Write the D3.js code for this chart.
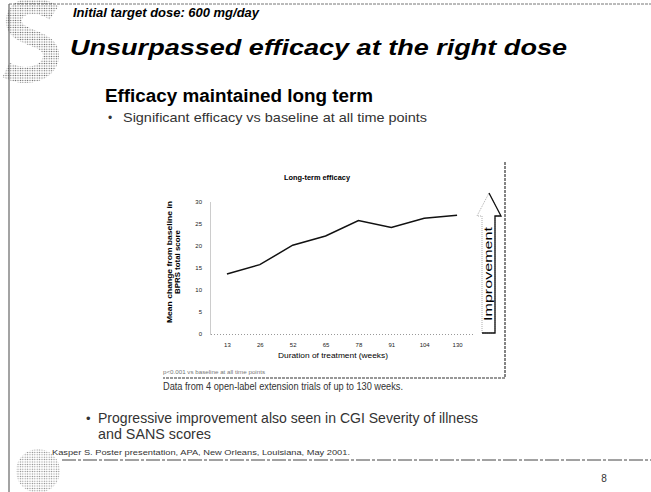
<!DOCTYPE html>
<html lang="en">
<head>
<meta charset="UTF-8">
<title>Long-term efficacy</title>
<style>
  body { margin: 0; background: #fff; }
  svg { display: block; font-family: "Liberation Sans", Arial, sans-serif; }
  .tick text { font-size: 6px; fill: #222; }
</style>
</head>
<body>
<script src="https://d3js.org/d3.v7.min.js"></script>
<script>
// chart data
const weeks = ['13', '26', '52', '65', '78', '91', '104', '130'];
const meanChange = [13.6, 15.7, 20.1, 22.2, 25.7, 24.1, 26.2, 26.9];
const yTicks = [0, 5, 10, 15, 20, 25, 30];

const svg = d3.select('body').append('svg')
  .attr('width', 651)
  .attr('height', 492);

// halftone dot pattern for the logos
const defs = svg.append('defs');
const pat = defs.append('pattern')
  .attr('id', 'dots').attr('patternUnits', 'userSpaceOnUse')
  .attr('width', 2.4).attr('height', 2.4);
pat.append('circle').attr('cx', 1.2).attr('cy', 1.2).attr('r', 0.65).attr('fill', '#555');

// page frame
svg.append('line').attr('x1', 9).attr('x2', 651).attr('y1', 4).attr('y2', 4)
  .attr('stroke', '#777').attr('stroke-width', 1).attr('stroke-dasharray', '3,1');
svg.append('line').attr('x1', 9).attr('x2', 9).attr('y1', 4).attr('y2', 492)
  .attr('stroke', '#666').attr('stroke-width', 1.2);
svg.append('line').attr('x1', 62).attr('x2', 651).attr('y1', 460).attr('y2', 460)
  .attr('stroke', '#444').attr('stroke-width', 1).attr('stroke-dasharray', '14,2,3,2');

// top logo (S swirl)
svg.append('path')
  .attr('d', 'M54,13 C36,1 12,5 14,23 C16,40 52,36 51,56 C50,74 26,80 6,70')
  .attr('fill', 'none').attr('stroke', 'url(#dots)').attr('stroke-width', 16);
// bottom logo
svg.append('circle').attr('cx', 38).attr('cy', 471).attr('r', 22)
  .attr('fill', 'url(#dots)').attr('opacity', 0.75);

// slide texts
svg.append('text').attr('x', 73).attr('y', 17)
  .attr('font-size', 13).attr('font-weight', 'bold').attr('font-style', 'italic')
  .attr('textLength', 186).attr('lengthAdjust', 'spacingAndGlyphs')
  .text('Initial target dose: 600 mg/day');
svg.append('text').attr('x', 70).attr('y', 55)
  .attr('font-size', 22).attr('font-weight', 'bold').attr('font-style', 'italic')
  .attr('textLength', 497).attr('lengthAdjust', 'spacingAndGlyphs')
  .text('Unsurpassed efficacy at the right dose');
svg.append('text').attr('x', 105).attr('y', 102)
  .attr('font-size', 18).attr('font-weight', 'bold')
  .attr('textLength', 268).attr('lengthAdjust', 'spacingAndGlyphs')
  .text('Efficacy maintained long term');
svg.append('text').attr('x', 108).attr('y', 122).attr('font-size', 12).attr('fill', '#333').text('•');
svg.append('text').attr('x', 123).attr('y', 122)
  .attr('font-size', 13).attr('fill', '#333')
  .attr('textLength', 304).attr('lengthAdjust', 'spacingAndGlyphs')
  .text('Significant efficacy vs baseline at all time points');

svg.append('text').attr('x', 163).attr('y', 390)
  .attr('font-size', 10).attr('fill', '#333')
  .attr('textLength', 240).attr('lengthAdjust', 'spacingAndGlyphs')
  .text('Data from 4 open-label extension trials of up to 130 weeks.');
svg.append('text').attr('x', 86).attr('y', 423).attr('font-size', 13).attr('fill', '#333').text('•');
svg.append('text').attr('x', 98).attr('y', 423)
  .attr('font-size', 15).attr('fill', '#333')
  .attr('textLength', 380).attr('lengthAdjust', 'spacingAndGlyphs')
  .text('Progressive improvement also seen in CGI Severity of illness');
svg.append('text').attr('x', 98).attr('y', 439)
  .attr('font-size', 15).attr('fill', '#333')
  .attr('textLength', 113).attr('lengthAdjust', 'spacingAndGlyphs')
  .text('and SANS scores');
svg.append('text').attr('x', 52).attr('y', 455)
  .attr('font-size', 8).attr('fill', '#333')
  .attr('textLength', 298).attr('lengthAdjust', 'spacingAndGlyphs')
  .text('Kasper S. Poster presentation, APA, New Orleans, Louisiana, May 2001.');
svg.append('text').attr('x', 604).attr('y', 482).attr('font-size', 10)
  .attr('text-anchor', 'middle').attr('fill', '#333').text('8');

// chart box (right and bottom edges only)
svg.append('path').attr('d', 'M505,162 V378 H163')
  .attr('fill', 'none').attr('stroke', '#333').attr('stroke-width', 1.2)
  .attr('stroke-dasharray', '3,1');

// chart
const x = d3.scalePoint().domain(weeks).range([210.5, 473.5]).padding(0.5);
const y = d3.scaleLinear().domain([0, 30]).range([334, 201.5]);

const xAxis = svg.append('g').attr('transform', 'translate(0,334)')
  .call(d3.axisBottom(x).tickSize(0).tickPadding(9));
xAxis.select('.domain').attr('stroke', '#999').attr('stroke-dasharray', '1,2');

const yAxis = svg.append('g').attr('transform', 'translate(210,0)')
  .call(d3.axisLeft(y).tickValues(yTicks).tickSize(0).tickPadding(8));
yAxis.select('.domain').attr('stroke', '#999').attr('stroke-dasharray', '1,1');

const line = d3.line()
  .x((d, i) => x(weeks[i]))
  .y(d => y(d));
svg.append('path').datum(meanChange)
  .attr('d', line)
  .attr('fill', 'none').attr('stroke', '#111').attr('stroke-width', 1.5);

svg.append('text').attr('x', 317).attr('y', 180)
  .attr('font-size', 7).attr('font-weight', 'bold').attr('text-anchor', 'middle')
  .attr('textLength', 66).attr('lengthAdjust', 'spacingAndGlyphs')
  .text('Long-term efficacy');

svg.append('text').attr('transform', 'translate(172,262) rotate(-90)')
  .attr('font-size', 6.5).attr('font-weight', 'bold').attr('text-anchor', 'middle')
  .attr('textLength', 122).attr('lengthAdjust', 'spacingAndGlyphs')
  .text('Mean change from baseline in');
svg.append('text').attr('transform', 'translate(180,262) rotate(-90)')
  .attr('font-size', 6.5).attr('font-weight', 'bold').attr('text-anchor', 'middle')
  .attr('textLength', 64).attr('lengthAdjust', 'spacingAndGlyphs')
  .text('BPRS total score');

svg.append('text').attr('x', 333).attr('y', 358)
  .attr('font-size', 7).attr('text-anchor', 'middle')
  .attr('textLength', 110).attr('lengthAdjust', 'spacingAndGlyphs')
  .text('Duration of treatment (weeks)');
svg.append('text').attr('x', 163).attr('y', 374)
  .attr('font-size', 6).attr('fill', '#777')
  .attr('textLength', 102).attr('lengthAdjust', 'spacingAndGlyphs')
  .text('p<0.001 vs baseline at all time points');

// improvement arrow
const arrowPts = [[482, 333], [482, 216], [477, 216], [489, 193], [501, 216], [495, 216], [495, 333]];
svg.append('path').attr('d', 'M' + arrowPts.join('L') + 'Z')
  .attr('fill', '#fff').attr('stroke', '#999').attr('stroke-width', 0.8)
  .attr('stroke-dasharray', '1,1');
svg.append('path').attr('d', 'M' + arrowPts.slice(3).join('L') + 'L482,333')
  .attr('fill', 'none').attr('stroke', '#111').attr('stroke-width', 1.3);
svg.append('text').attr('transform', 'translate(492,274) rotate(-90)')
  .attr('font-size', 10).attr('text-anchor', 'middle')
  .attr('textLength', 94).attr('lengthAdjust', 'spacingAndGlyphs')
  .text('Improvement');
</script>
</body>
</html>
